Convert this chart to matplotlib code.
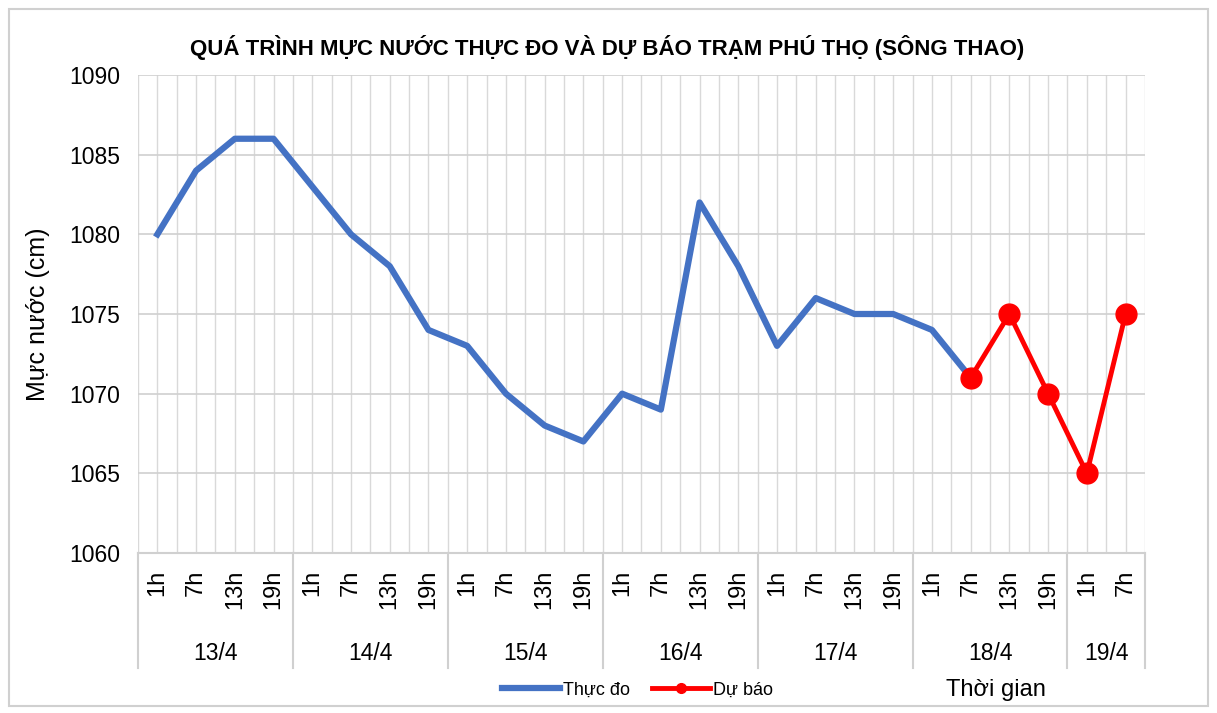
import matplotlib.pyplot as plt
import matplotlib.patches as patches
from matplotlib.lines import Line2D
import numpy as np

# data
days = ['13/4', '14/4', '15/4', '16/4', '17/4', '18/4', '19/4']
hours = ['1h', '7h', '13h', '19h']
hour_labels = hours * 6 + ['1h', '7h']

observed = [1080, 1084, 1086, 1086,
            1083, 1080, 1078, 1074,
            1073, 1070, 1068, 1067,
            1070, 1069, 1082, 1078,
            1073, 1076, 1075, 1075,
            1074, 1071]
forecast = [1071, 1075, 1070, 1065, 1075]
forecast_start = 21

plt.rcParams['font.family'] = ['Liberation Sans', 'DejaVu Sans']

fig = plt.figure(figsize=(12.17, 7.13), dpi=100)
fig.patches.append(patches.Rectangle((0.007, 0.01), 0.986, 0.978, transform=fig.transFigure,
                                     fill=False, edgecolor='#d0d0d0', lw=1.5))
ax = fig.add_axes([0.1134, 0.2244, 0.8274, 0.6704])

n = len(hour_labels)
x_obs = np.arange(len(observed))
x_fc = np.arange(forecast_start, forecast_start + len(forecast))

ax.plot(x_obs, observed, color='#4472C4', lw=4.5, zorder=3)
ax.plot(x_fc, forecast, color='#FF0000', lw=3.5, marker='o', markersize=15, zorder=4)

ax.set_xlim(-0.5, n - 0.5)
ax.set_ylim(1060, 1090)
ax.set_yticks(np.arange(1060, 1091, 5))
ax.set_xticks(np.arange(n))
ax.set_xticklabels(hour_labels, rotation=90, fontsize=17)
ax.set_xticks(np.arange(n + 1) - 0.5, minor=True)
ax.tick_params(axis='y', labelsize=16.5, length=0, pad=13)
ax.tick_params(axis='x', which='both', length=0, pad=12)
ax.grid(True, which='both', axis='x', color='#d9d9d9', lw=1)
ax.grid(True, which='major', axis='y', color='#d0d0d0', lw=1.2)
ax.set_axisbelow(True)
for s in ['top', 'right', 'left']:
    ax.spines[s].set_visible(False)
ax.spines['bottom'].set_color('#d0d0d0')
ax.spines['bottom'].set_linewidth(1.5)

# group separators and date labels
trans = ax.get_xaxis_transform()
bounds = [-0.5] + [4 * i + 3.5 for i in range(6)] + [n - 0.5]
for b in bounds:
    ax.plot([b, b], [0, -0.24], color='#d0d0d0', lw=1.5, transform=trans, clip_on=False)
for i, d in enumerate(days):
    mid = (bounds[i] + bounds[i + 1]) / 2
    ax.text(mid, -0.21, d, transform=trans, ha='center', va='center', fontsize=16.5)

ax.set_ylabel('Mực nước (cm)', fontsize=18, labelpad=14)
fig.text(0.499, 0.934, 'QUÁ TRÌNH MỰC NƯỚC THỰC ĐO VÀ DỰ BÁO TRẠM PHÚ THỌ (SÔNG THAO)',
         ha='center', va='center', fontsize=16, fontweight='bold')
fig.text(0.818, 0.032, 'Thời gian', ha='center', va='center', fontsize=17)

handles = [Line2D([], [], color='#4472C4', lw=4.5),
           Line2D([], [], color='#FF0000', lw=3.5, marker='o', markersize=7)]
fig.legend(handles, ['Thực đo', 'Dự báo'], loc='center', bbox_to_anchor=(0.524, 0.032),
           ncol=2, frameon=False, fontsize=13, handlelength=3.2, handletextpad=0.2,
           columnspacing=1.2)

fig.savefig('out.png', dpi=100)
